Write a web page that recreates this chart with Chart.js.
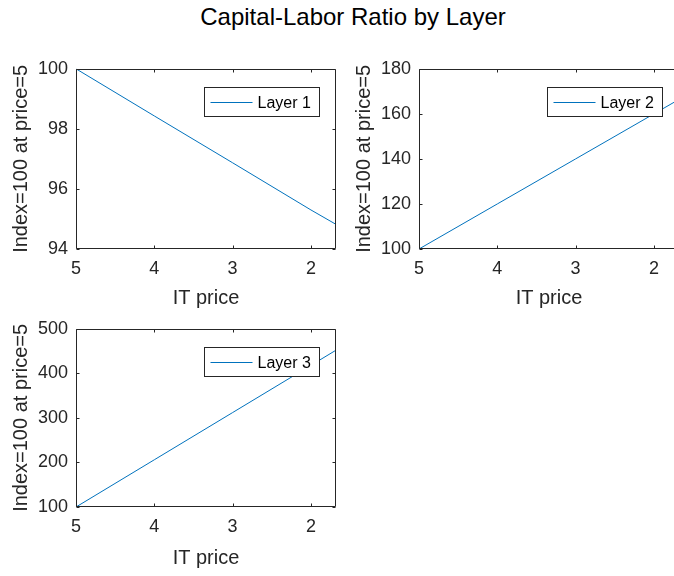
<!DOCTYPE html>
<html>
<head>
<meta charset="utf-8">
<script src="https://cdn.jsdelivr.net/npm/chart.js@4.4.1/dist/chart.umd.min.js"></script>
<style>
  html, body { margin:0; padding:0; width:674px; height:576px; overflow:hidden; background:#fff; }
  canvas { position:absolute; }
  #title { position:absolute; left:0; width:706px; top:3px; text-align:center; font-family:"Liberation Sans", Arial, sans-serif; font-size:24px; color:#000; white-space:nowrap; }
</style>
</head>
<body>
<div id="title">Capital-Labor Ratio by Layer</div>
<canvas id="c1" width="346" height="260" style="left:0px; top:50px;"></canvas>
<canvas id="c2" width="346" height="260" style="left:343px; top:50px;"></canvas>
<canvas id="c3" width="346" height="260" style="left:0px; top:310px;"></canvas>
<script>
// ---- data ----
const itPrice = [5, 4, 3, 2, 1.68];
const layer1 = [100, 98.43, 96.87, 95.30, 94.82];
const layer2 = [100, 120, 140, 160, 166.4];
const layer3 = [100, 206, 312, 418, 452];
const xTicks = [5, 4, 3, 2];
const yTicks1 = [94, 96, 98, 100];
const yTicks2 = [100, 120, 140, 160, 180];
const yTicks3 = [100, 200, 300, 400, 500];
const seriesNames = ['Layer 1', 'Layer 2', 'Layer 3'];
const xTitle = 'IT price';
const yTitle = 'Index=100 at price=5';

const FAMILY = '"Liberation Sans", Arial, sans-serif';
const AX = '#262626';
const LINE = '#0072BD';

const framePlugin = {
  id: 'frame',
  afterDatasetsDraw(chart) {
    const ctx = chart.ctx, a = chart.chartArea;
    const xs = chart.scales.x, ys = chart.scales.y;
    const L = Math.round(a.left) + 0.5, R = Math.round(a.right) - 0.5;
    const T = Math.round(a.top) + 0.5, B = Math.round(a.bottom) - 0.5;
    ctx.save();
    ctx.strokeStyle = AX; ctx.lineWidth = 1;
    ctx.beginPath();
    ctx.rect(L, T, R - L, B - T);
    const tl = 3;
    xs.ticks.forEach(t => {
      const px = Math.round(xs.getPixelForValue(t.value)) + 0.5;
      ctx.moveTo(px, B); ctx.lineTo(px, B - tl);
      ctx.moveTo(px, T); ctx.lineTo(px, T + tl);
    });
    ys.ticks.forEach(t => {
      const py = Math.round(ys.getPixelForValue(t.value)) + 0.5;
      ctx.moveTo(L, py); ctx.lineTo(L + tl, py);
      ctx.moveTo(R, py); ctx.lineTo(R - tl, py);
    });
    ctx.stroke();
    // boxed legend (top-right inside plot)
    const ds = chart.data.datasets[0];
    const w = 115, h = 29;
    const bx = Math.round(a.right - 17 - w) + 0.5, by = Math.round(a.top + 18) + 0.5;
    ctx.fillStyle = '#fff';
    ctx.fillRect(bx, by, w, h);
    ctx.strokeStyle = AX;
    ctx.strokeRect(bx, by, w, h);
    const my = Math.round(by + h / 2) + 0.5;
    ctx.strokeStyle = ds.borderColor; ctx.lineWidth = 1;
    ctx.beginPath(); ctx.moveTo(bx + 6, my); ctx.lineTo(bx + 48, my); ctx.stroke();
    ctx.fillStyle = '#000';
    ctx.font = '16px ' + FAMILY;
    ctx.textBaseline = 'middle'; ctx.textAlign = 'left';
    ctx.fillText(ds.label, bx + 53, my + 1);
    ctx.restore();
  }
};

function makePanel(id, name, values, yT, xAxisH) {
  new Chart(document.getElementById(id), {
    type: 'line',
    data: {
      datasets: [{
        label: name,
        data: itPrice.map((p, i) => ({ x: p, y: values[i] })),
        borderColor: LINE, borderWidth: 1, pointRadius: 0, tension: 0, fill: false
      }]
    },
    options: {
      responsive: false, animation: false, devicePixelRatio: 1,
      layout: { padding: { top: 15, right: 10, left: 0, bottom: 0 } },
      plugins: { legend: { display: false }, tooltip: { enabled: false } },
      scales: {
        x: {
          type: 'linear', reverse: true,
          min: itPrice[itPrice.length - 1], max: itPrice[0],
          afterBuildTicks: s => { s.ticks = xTicks.map(v => ({ value: v })); },
          afterFit: s => { s.height = xAxisH; },
          grid: { display: false, drawTicks: false },
          border: { display: false },
          ticks: { padding: 9, maxRotation: 0, color: AX, font: { size: 18, family: FAMILY }, callback: v => String(v) },
          title: { display: true, text: xTitle, color: AX, font: { size: 20, family: FAMILY, lineHeight: 1.2 }, padding: { top: 0, bottom: 0 } }
        },
        y: {
          type: 'linear',
          min: yT[0], max: yT[yT.length - 1],
          afterBuildTicks: s => { s.ticks = yT.map(v => ({ value: v })); },
          afterFit: s => { s.width = 76; },
          grid: { display: false, drawTicks: false },
          border: { display: false },
          ticks: { padding: 8, color: AX, font: { size: 18, family: FAMILY }, callback: v => String(v) },
          title: { display: true, text: yTitle, color: AX, font: { size: 20, family: FAMILY, lineHeight: 1.2 }, padding: { top: 9, bottom: 0 } }
        }
      }
    },
    plugins: [framePlugin]
  });
}

makePanel('c1', seriesNames[0], layer1, yTicks1, 61);
makePanel('c2', seriesNames[1], layer2, yTicks2, 61);
makePanel('c3', seriesNames[2], layer3, yTicks3, 63);
</script>
</body>
</html>
